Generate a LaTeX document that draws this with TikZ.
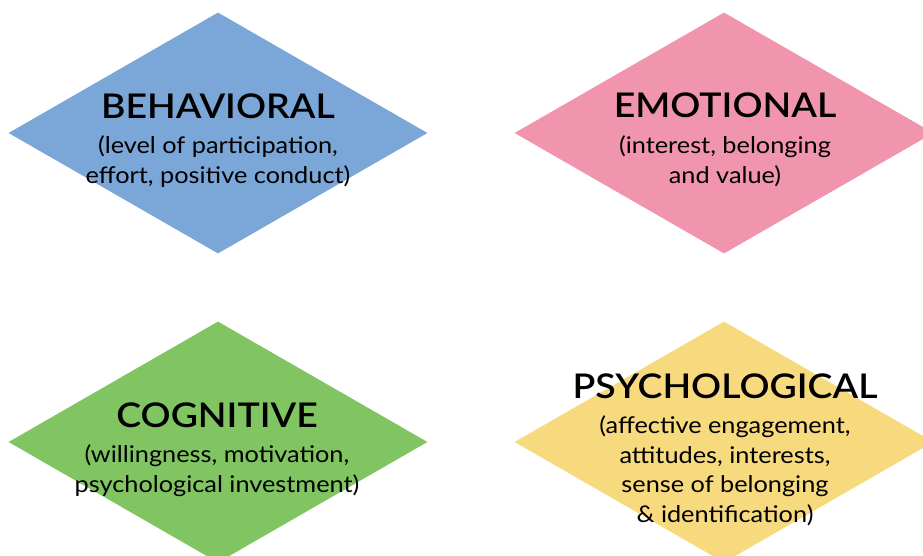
\documentclass[tikz,border=0pt]{standalone}
\usepackage{fontspec}
\setmainfont{Lato}[FakeStretch=1.1]
\newfontfamily\headfont{Lato Semibold}[FakeStretch=1.1]
\usetikzlibrary{shapes.geometric}

\definecolor{behavblue}{RGB}{122,167,216}
\definecolor{emotpink}{RGB}{240,149,173}
\definecolor{cogngreen}{RGB}{128,197,98}
\definecolor{psychyellow}{RGB}{248,218,126}

\tikzset{
	facet/.style={diamond,minimum width=419pt,minimum height=241pt,inner sep=0pt},
	title/.style={anchor=base,inner sep=0pt,font=\fontsize{34}{36}\headfont},
	detail/.style={anchor=base,inner sep=0pt,align=center,font=\fontsize{23}{29.5}\selectfont}
}

\begin{document}
\begin{tikzpicture}[x=1pt,y=-1pt]
	\useasboundingbox (0,0) rectangle (923,556);
	\clip (0,0) rectangle (923,556);

	% the four diamonds
	\foreach \name/\x/\y/\col in {behav/218/133/behavblue,emot/724/133/emotpink,
		cogn/218/442/cogngreen,psych/724/442/psychyellow}
		\node[facet,fill=\col] (\name) at (\x,\y) {};

	% base of a detail node sits on its last line
	\node[title] (behav-t) at (218,119) {BEHAVIORAL};
	\node[detail] (behav-d) at (218,183) {(level of participation,\\effort, positive conduct)};

	\node[title] (emot-t) at (725,118) {EMOTIONAL};
	\node[detail] (emot-d) at (725,183) {(interest, belonging\\and value)};

	\node[title] (cogn-t) at (217,427) {COGNITIVE};
	\node[detail] (cogn-d) at (217,492) {(willingness, motivation,\\psychological investment)};

	\node[title] (psych-t) at (725,398) {PSYCHOLOGICAL};
	\node[detail] (psych-d) at (725,522) {(affective engagement,\\attitudes, interests,\\sense of belonging\\\& identification)};
\end{tikzpicture}
\end{document}
